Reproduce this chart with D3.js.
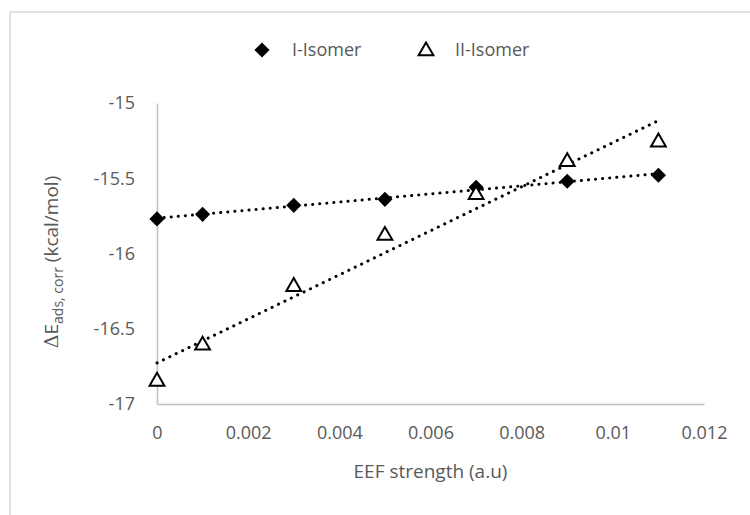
<!DOCTYPE html>
<html>
<head>
<meta charset="utf-8">
<script src="https://cdn.jsdelivr.net/npm/d3@7"></script>
<style>
  body { margin: 0; background: #fff; }
  text { font-family: "Open Sans", sans-serif; fill: #595959; }
</style>
</head>
<body>
<div id="chart"></div>
<script>
const W = 750, H = 515;

// data
const fieldStrength = [0, 0.001, 0.003, 0.005, 0.007, 0.009, 0.011];
const isomerI  = [-15.77, -15.74, -15.68, -15.64, -15.56, -15.52, -15.48];
const isomerII = [-16.85, -16.61, -16.22, -15.88, -15.61, -15.39, -15.26];
const xTicks = [0, 0.002, 0.004, 0.006, 0.008, 0.01, 0.012];
const yTicks = [-15, -15.5, -16, -16.5, -17];
const seriesNames = ["I-Isomer", "II-Isomer"];

const svg = d3.select("#chart").append("svg")
  .attr("width", W).attr("height", H);

// chart frame (only top and left edges show)
svg.append("rect")
  .attr("x", 10).attr("y", 12)
  .attr("width", W + 20).attr("height", H + 20)
  .attr("fill", "none").attr("stroke", "#d9d9d9").attr("stroke-width", 1.5);

const x = d3.scaleLinear().domain([0, 0.012]).range([157, 704]);
const y = d3.scaleLinear().domain([-17, -15]).range([404, 103]);

// axes
const gx = svg.append("g").attr("transform", "translate(0," + y(-17) + ")")
  .call(d3.axisBottom(x).tickValues(xTicks).tickSize(0).tickPadding(22)
    .tickFormat(d => d === 0 ? "0" : String(+d.toFixed(3))));
const gy = svg.append("g").attr("transform", "translate(" + x(0) + ",0)")
  .call(d3.axisLeft(y).tickValues(yTicks).tickSize(0).tickPadding(22)
    .tickFormat(d => String(d)));
[gx, gy].forEach(g => {
  g.select(".domain").attr("stroke", "#bfbfbf").attr("stroke-width", 1.5);
  g.selectAll("text").attr("font-size", 18).attr("fill", "#595959")
    .attr("font-family", "Open Sans");
});

// linear trendlines
function fit(xs, ys) {
  const mx = d3.mean(xs), my = d3.mean(ys);
  const sxy = d3.sum(xs, (v, i) => (v - mx) * (ys[i] - my));
  const sxx = d3.sum(xs, v => (v - mx) * (v - mx));
  const b = sxy / sxx;
  return [b, my - b * mx];
}
const line = d3.line().x(d => x(d[0])).y(d => y(d[1]));
[isomerI, isomerII].forEach(ys => {
  const [b, a] = fit(fieldStrength, ys);
  const x0 = fieldStrength[0], x1 = fieldStrength[fieldStrength.length - 1];
  svg.append("path")
    .attr("d", line([[x0, a + b * x0], [x1, a + b * x1]]))
    .attr("fill", "none").attr("stroke", "#000")
    .attr("stroke-width", 3).attr("stroke-linecap", "round")
    .attr("stroke-dasharray", "0.1 7");
});

const diamond = d3.symbol().type(d3.symbolSquare).size(115);
const triangle = d3.symbol().type(d3.symbolTriangle).size(95);

// I-Isomer markers
svg.append("g").selectAll("path")
  .data(fieldStrength.map((v, i) => [v, isomerI[i]]))
  .join("path")
  .attr("d", diamond)
  .attr("transform", d => "translate(" + x(d[0]) + "," + y(d[1]) + ") rotate(45)")
  .attr("fill", "#000");

// II-Isomer markers
svg.append("g").selectAll("path")
  .data(fieldStrength.map((v, i) => [v, isomerII[i]]))
  .join("path")
  .attr("d", triangle)
  .attr("transform", d => "translate(" + x(d[0]) + "," + y(d[1]) + ")")
  .attr("fill", "#fff").attr("stroke", "#000").attr("stroke-width", 2);

// legend
const legend = svg.append("g");
legend.append("path").attr("d", diamond)
  .attr("transform", "translate(262,50) rotate(45)").attr("fill", "#000");
legend.append("text").attr("x", 292).attr("y", 50).attr("dy", "0.35em")
  .attr("font-size", 18).text(seriesNames[0]);
legend.append("path").attr("d", triangle)
  .attr("transform", "translate(426,51)")
  .attr("fill", "#fff").attr("stroke", "#000").attr("stroke-width", 2);
legend.append("text").attr("x", 455).attr("y", 50).attr("dy", "0.35em")
  .attr("font-size", 18).text(seriesNames[1]);

// axis titles
svg.append("text")
  .attr("x", x(0.006)).attr("y", 478).attr("text-anchor", "middle")
  .attr("font-size", 19).text("EEF strength (a.u)");

const yt = svg.append("text")
  .attr("transform", "translate(58," + 262 + ") rotate(-90)")
  .attr("text-anchor", "middle").attr("font-size", 19);
yt.append("tspan").attr("font-family", "DejaVu Serif").text("\u0394");
yt.append("tspan").text("E");
yt.append("tspan").attr("font-size", 14).attr("dy", 5).text("ads, corr");
yt.append("tspan").attr("dy", -5).text(" (kcal/mol)");
</script>
</body>
</html>
